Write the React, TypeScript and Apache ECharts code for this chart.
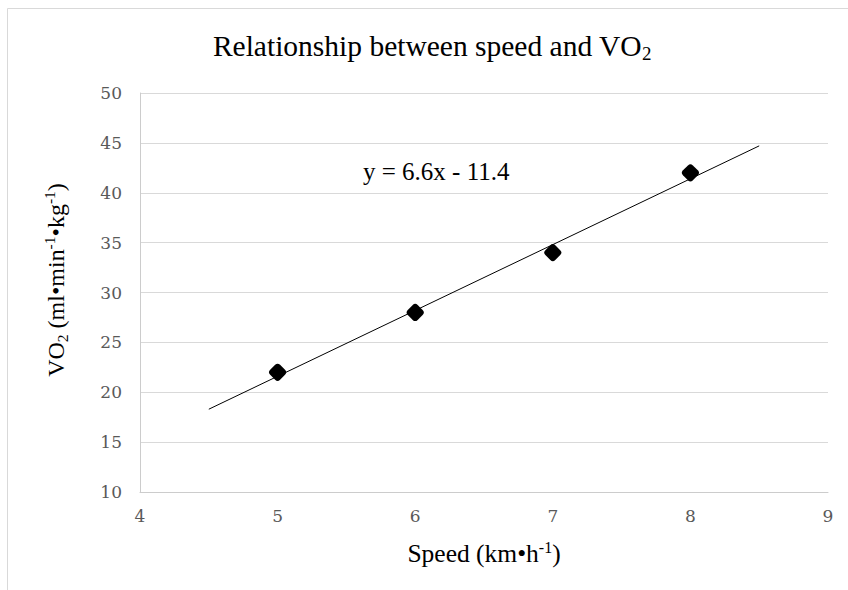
import React, { useEffect, useRef } from "react";
import * as echarts from "echarts";

// ---- data ----
const speeds = [5, 6, 7, 8];
const vo2Values = [22, 28, 34, 42];
const xAxisRange = [4, 9];
const xInterval = 1;
const yAxisRange = [10, 50];
const yInterval = 5;
const trendSlope = 6.6;
const trendIntercept = -11.4;
const trendXs = [4.5, 8.5];
const equationLabel = "y = 6.6x - 11.4";
const titleMain = "Relationship between speed and VO";
const xName = "Speed (km•h";
const yNameParts = ["VO", "2", " (ml•min", "-1", "•kg", "-1", ")"];

const SERIF = "'Liberation Serif', 'Times New Roman', serif";
const TICK_FONT = "'DejaVu Serif', Cambria, serif";

export default function App() {
  const ref = useRef<HTMLDivElement>(null);

  useEffect(() => {
    document.body.style.margin = "0";
    if (!ref.current) return;
    const chart = echarts.init(ref.current, undefined, { renderer: "svg" });

    const scatterData = speeds.map((s, i) => [s, vo2Values[i]]);
    const trendData = trendXs.map((x) => [x, trendSlope * x + trendIntercept]);

    const yNameText =
      yNameParts[0] +
      "{sub|" + yNameParts[1] + "}" +
      yNameParts[2] +
      "{sup|" + yNameParts[3] + "}" +
      yNameParts[4] +
      "{sup|" + yNameParts[5] + "}" +
      yNameParts[6];

    const option: any = {
      animation: false,
      backgroundColor: "#ffffff",
      grid: { left: 140, right: 20, top: 93, bottom: 98, containLabel: false },
      xAxis: {
        type: "value",
        min: xAxisRange[0],
        max: xAxisRange[1],
        interval: xInterval,
        axisLine: { show: true, lineStyle: { color: "#cccccc", width: 1 } },
        axisTick: { show: false },
        splitLine: { show: false },
        axisLabel: {
          color: "#595959",
          fontFamily: TICK_FONT,
          fontSize: 17,
          margin: 15,
        },
      },
      yAxis: {
        type: "value",
        min: yAxisRange[0],
        max: yAxisRange[1],
        interval: yInterval,
        axisLine: { show: true, lineStyle: { color: "#cccccc", width: 1 } },
        axisTick: { show: false },
        splitLine: { show: true, lineStyle: { color: "#d9d9d9", width: 1 } },
        axisLabel: {
          color: "#595959",
          fontFamily: TICK_FONT,
          fontSize: 17,
          margin: 18,
        },
      },
      series: [
        {
          type: "line",
          data: trendData,
          showSymbol: false,
          symbol: "none",
          lineStyle: { color: "#000000", width: 1 },
          z: 2,
          silent: true,
        },
        {
          type: "scatter",
          data: scatterData,
          symbol: "roundRect",
          symbolSize: 14,
          symbolRotate: 45,
          itemStyle: { color: "#000000", opacity: 1 },
          z: 3,
        },
      ],
      graphic: [
        {
          type: "rect",
          silent: true,
          z: -10,
          shape: { x: 7.5, y: 8.5, width: 1000, height: 1000 },
          style: { fill: "transparent", stroke: "#d9d9d9", lineWidth: 1 },
        },
        {
          type: "text",
          x: 432,
          y: 46,
          style: {
            text: titleMain + "{sub|2}",
            font: "29.5px " + SERIF,
            fill: "#000000",
            textAlign: "center",
            textVerticalAlign: "middle",
            lineHeight: 34,
            rich: {
              sub: {
                fontSize: 19,
                fontFamily: SERIF,
                lineHeight: 19,
                verticalAlign: "bottom",
                fill: "#000000",
                color: "#000000",
              },
            },
          },
        },
        {
          type: "text",
          x: 363,
          y: 171,
          style: {
            text: equationLabel,
            font: "25px " + SERIF,
            fill: "#000000",
            textAlign: "left",
            textVerticalAlign: "middle",
          },
        },
        {
          type: "text",
          x: 484,
          y: 553,
          style: {
            text: xName + "{sup|-1})",
            font: "25.5px " + SERIF,
            fill: "#000000",
            textAlign: "center",
            textVerticalAlign: "middle",
            lineHeight: 28,
            rich: {
              sup: {
                fontSize: 16,
                fontFamily: SERIF,
                lineHeight: 16,
                verticalAlign: "top",
                fill: "#000000",
                color: "#000000",
              },
            },
          },
        },
        {
          type: "text",
          x: 56,
          y: 280,
          rotation: Math.PI / 2,
          style: {
            text: yNameText,
            font: "24px " + SERIF,
            fill: "#000000",
            textAlign: "center",
            textVerticalAlign: "middle",
            lineHeight: 29,
            rich: {
              sub: {
                fontSize: 15.5,
                fontFamily: SERIF,
                lineHeight: 15.5,
                verticalAlign: "bottom",
                fill: "#000000",
                color: "#000000",
              },
              sup: {
                fontSize: 15.5,
                fontFamily: SERIF,
                lineHeight: 15.5,
                verticalAlign: "top",
                fill: "#000000",
                color: "#000000",
              },
            },
          },
        },
      ],
    };

    chart.setOption(option);
    return () => {
      chart.dispose();
    };
  }, []);

  return <div ref={ref} style={{ width: 848, height: 590 }} />;
}
